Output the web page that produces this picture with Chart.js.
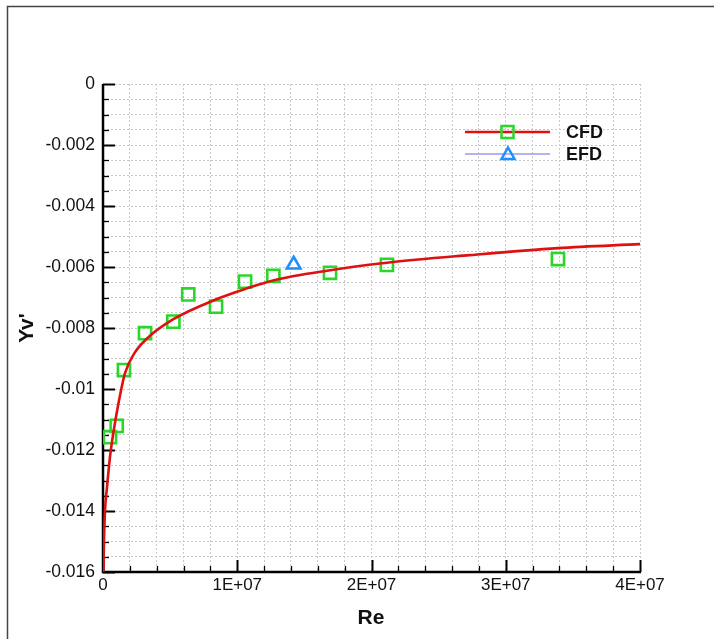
<!DOCTYPE html>
<html>
<head>
<meta charset="utf-8">
<script src="https://cdn.jsdelivr.net/npm/chart.js@4.4.1/dist/chart.umd.min.js"></script>
<style>
  html, body { margin: 0; padding: 0; background: #fff; }
  #wrap { width: 714px; height: 639px; }
</style>
</head>
<body>
<div id="wrap"><canvas id="reChart" width="714" height="639"></canvas></div>
<script>
// CFD curve (Re, Yv')
const cfdCurveRe = [3e4, 7.5e4, 1.5e5, 2.8e5, 5.2e5, 7.7e5, 1.14e6, 1.64e6, 2.38e6, 3.26e6,
    5.21e6, 8.49e6, 1.073e7, 1.266e7, 1.669e7, 2.115e7, 2.73e7, 3.389e7, 4.0e7];
const cfdCurveY = [-0.0160, -0.01495, -0.01397, -0.01331, -0.01223, -0.01144, -0.01050, -0.00948, -0.00880, -0.00835,
    -0.00772, -0.00705, -0.00670, -0.00644, -0.00612, -0.00586, -0.00561, -0.00538, -0.00525];

// CFD markers
const cfdPointRe = [5.2e5, 1.02e6, 1.56e6, 3.13e6, 5.24e6, 6.35e6, 8.42e6, 1.058e7, 1.269e7, 1.691e7, 2.115e7, 3.389e7];
const cfdPointY = [-0.01158, -0.01121, -0.00938, -0.00817, -0.00779, -0.00690, -0.00730, -0.00648, -0.00629, -0.00619, -0.00593, -0.00574];

// EFD
const efdRe = [1.42e7];
const efdY = [-0.00592];

const xTickMajor = 1e7, xTickMinor = 2e6;
const yTickMajor = 0.002, yTickMinor = 0.0005;

const RED = '#dd1111';
const GREEN = '#2bd62b';
const BLUE = '#1e8fff';
const FONT = "'Liberation Sans', Arial, sans-serif";

function zip(xs, ys) {
    return xs.map((v, i) => ({ x: v, y: ys[i] }));
}
function isMajor(v, step) {
    const r = v / step;
    return Math.abs(r - Math.round(r)) < 1e-6;
}

const framePlugin = {
    id: 'frame',
    beforeDraw(chart) {
        const ctx = chart.ctx;
        ctx.save();
        ctx.fillStyle = '#fff';
        ctx.fillRect(0, 0, chart.width, chart.height);
        ctx.strokeStyle = '#444';
        ctx.lineWidth = 1.5;
        ctx.beginPath();
        ctx.moveTo(7.5, chart.height);
        ctx.lineTo(7.5, 6.5);
        ctx.lineTo(chart.width, 6.5);
        ctx.stroke();
        ctx.restore();
    }
};

const axesPlugin = {
    id: 'axesInside',
    beforeDatasetsDraw(chart) {
        const { ctx, chartArea: a, scales: { x, y } } = chart;
        ctx.save();
        ctx.strokeStyle = '#000';
        x.ticks.forEach(t => {
            const major = isMajor(t.value, xTickMajor);
            const px = Math.round(x.getPixelForValue(t.value)) + 0.5;
            ctx.lineWidth = major ? 2 : 1.3;
            ctx.beginPath();
            ctx.moveTo(px, a.bottom);
            ctx.lineTo(px, a.bottom - (major ? 12 : 6));
            ctx.stroke();
        });
        y.ticks.forEach(t => {
            const major = isMajor(t.value, yTickMajor);
            const py = Math.round(y.getPixelForValue(t.value)) + 0.5;
            ctx.lineWidth = major ? 2 : 1.3;
            ctx.beginPath();
            ctx.moveTo(a.left, py);
            ctx.lineTo(a.left + (major ? 12 : 6), py);
            ctx.stroke();
        });
        ctx.lineWidth = 2.5;
        ctx.beginPath();
        ctx.moveTo(a.left, a.top);
        ctx.lineTo(a.left, a.bottom);
        ctx.lineTo(a.right + 1, a.bottom);
        ctx.stroke();
        ctx.restore();
    },
    afterDraw(chart) {
        const ctx = chart.ctx;
        ctx.save();
        // axis titles
        ctx.fillStyle = '#111';
        ctx.font = 'bold 21px ' + FONT;
        ctx.textAlign = 'center';
        ctx.textBaseline = 'middle';
        ctx.fillText('Re', 371, 618);
        ctx.translate(27, 328);
        ctx.rotate(-Math.PI / 2);
        ctx.fillText("Yv'", 0, 0);
        ctx.restore();

        // legend
        ctx.save();
        ctx.lineWidth = 2.5;
        ctx.strokeStyle = RED;
        ctx.beginPath();
        ctx.moveTo(465, 132);
        ctx.lineTo(550, 132);
        ctx.stroke();
        ctx.strokeStyle = GREEN;
        ctx.strokeRect(501.5, 126, 12, 12);

        ctx.lineWidth = 1.5;
        ctx.strokeStyle = '#9a9aee';
        ctx.beginPath();
        ctx.moveTo(465, 154);
        ctx.lineTo(550, 154);
        ctx.stroke();
        ctx.lineWidth = 2.5;
        ctx.strokeStyle = BLUE;
        ctx.beginPath();
        ctx.moveTo(508, 147.5);
        ctx.lineTo(514.5, 159);
        ctx.lineTo(501.5, 159);
        ctx.closePath();
        ctx.stroke();

        ctx.fillStyle = '#111';
        ctx.font = 'bold 18px ' + FONT;
        ctx.textAlign = 'left';
        ctx.textBaseline = 'middle';
        ctx.fillText('CFD', 566, 133);
        ctx.fillText('EFD', 566, 155);
        ctx.restore();
    }
};

const ctx = document.getElementById('reChart').getContext('2d');
const reChart = new Chart(ctx, {
    type: 'scatter',
    data: {
        datasets: [{
            label: 'CFD markers',
            data: zip(cfdPointRe, cfdPointY),
            pointStyle: 'rect',
            pointRadius: 8.6,
            pointBorderWidth: 2.6,
            pointBorderColor: GREEN,
            pointBackgroundColor: 'rgba(0,0,0,0)',
            showLine: false,
            order: 2
        }, {
            label: 'EFD',
            data: zip(efdRe, efdY),
            pointStyle: 'triangle',
            pointRadius: 7.8,
            pointBorderWidth: 2.6,
            pointBorderColor: BLUE,
            pointBackgroundColor: 'rgba(0,0,0,0)',
            showLine: false,
            order: 2
        }, {
            label: 'CFD',
            data: zip(cfdCurveRe, cfdCurveY),
            showLine: true,
            borderColor: RED,
            borderWidth: 2.6,
            pointRadius: 0,
            cubicInterpolationMode: 'monotone',
            fill: false,
            order: 1
        }]
    },
    options: {
        responsive: false,
        animation: false,
        layout: { padding: { left: 0, top: 84, right: 74, bottom: 0 } },
        plugins: {
            legend: { display: false },
            tooltip: { enabled: false }
        },
        scales: {
            x: {
                type: 'linear',
                min: 0,
                max: 4e7,
                afterFit(scale) { scale.height = 67; },
                border: { display: false, dash: [2, 2] },
                grid: { color: '#c8c8c8', lineWidth: 1, drawTicks: false },
                ticks: {
                    stepSize: xTickMinor,
                    autoSkip: false,
                    maxRotation: 0,
                    padding: 3,
                    color: '#111',
                    font: { family: FONT, size: 17 },
                    callback: v => isMajor(v, xTickMajor) ? (v === 0 ? '0' : Math.round(v / 1e7) + 'E+07') : ''
                }
            },
            y: {
                type: 'linear',
                min: -0.016,
                max: 0,
                afterFit(scale) { scale.width = 103; },
                border: { display: false, dash: [2, 2] },
                grid: { color: '#c8c8c8', lineWidth: 1, drawTicks: false },
                ticks: {
                    stepSize: yTickMinor,
                    autoSkip: false,
                    padding: 8,
                    color: '#111',
                    font: { family: FONT, size: 17.5 },
                    callback: v => isMajor(v, yTickMajor) ? String(parseFloat(v.toFixed(3))) : ''
                }
            }
        }
    },
    plugins: [framePlugin, axesPlugin]
});
</script>
</body>
</html>
